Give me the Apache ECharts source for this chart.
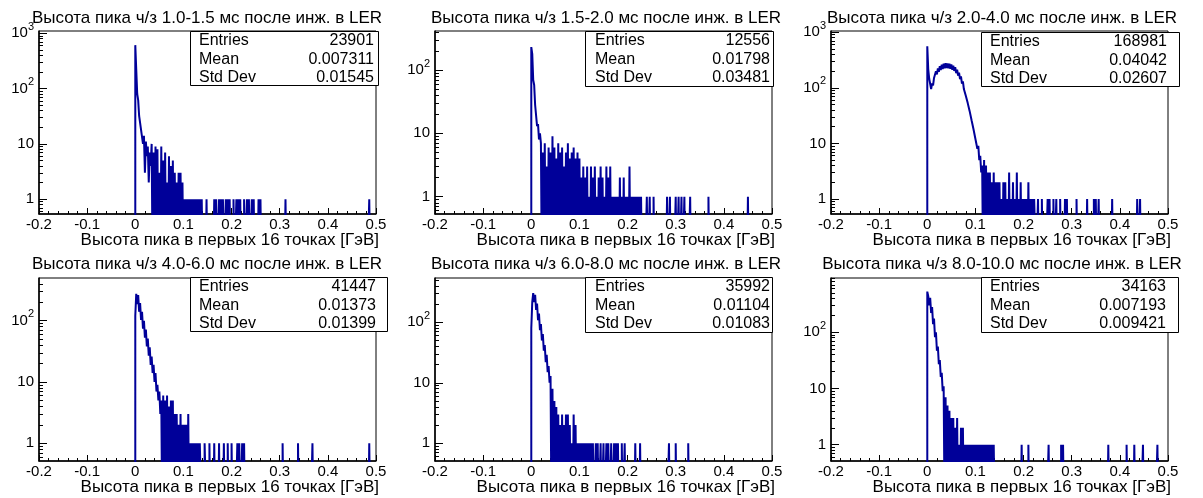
<!DOCTYPE html>
<html>
<head>
<meta charset="utf-8">
<script src="https://cdn.jsdelivr.net/npm/echarts@6/dist/echarts.min.js"></script>
<style>
  html, body { margin: 0; background: #fff; }
  #chart { width: 1203px; height: 498px; }
</style>
</head>
<body>
<div id="chart"></div>
<script>
// --- data ---
const timeRanges = ['1.0-1.5', '1.5-2.0', '2.0-4.0', '4.0-6.0', '6.0-8.0', '8.0-10.0'];
const xTitle = 'Высота пика в первых 16 точках [ГэВ]';

const statEntries = ['23901', '12556', '168981', '41447', '35992', '34163'];
const statMean = ['0.007311', '0.01798', '0.04042', '0.01373', '0.01104', '0.007193'];
const statStd = ['0.01545', '0.03481', '0.02607', '0.01399', '0.01083', '0.009421'];

// bin contents, bin width 0.002 starting at x = 0
const core1 = [610, 220, 80, 62, 32, 30, 18, 19, 10, 14, 3, 11, 6, 9, 2, 7, 4,
  10, 0, 7, 0, 9, 0, 8, 0, 3, 0, 9, 0, 5, 0, 7, 0, 2, 0, 6, 0,
  4, 0, 5, 0, 3, 0, 2, 0, 3, 0, 3, 0, 2, 0, 1, 0, 1, 0, 1, 0,
  1, 0, 1, 0, 1, 0, 1, 0, 1, 0, 1, 0, 1];
const core2 = [230, 180, 70, 58, 28, 27, 13, 14, 8, 10,
  7, 0, 5, 0, 7, 0, 3, 0, 6, 0, 5, 0, 9, 0, 6, 0, 4, 0, 7, 0,
  5, 0, 6, 0, 3, 0, 5, 0, 7, 0, 4, 0, 5, 0, 6, 0, 4, 0, 5, 0,
  4, 0, 2, 0, 3, 0, 2, 0, 3, 0, 1, 0, 3, 0, 2, 0, 3, 0, 1, 0,
  2, 0, 3, 0, 2, 0, 1, 0, 3, 0, 2, 0, 3, 0, 1, 0, 1, 0, 1, 0,
  1, 0, 2, 0, 1, 0, 2, 0, 1, 0, 1, 0, 3, 0, 1, 0, 1, 0, 1, 0,
  1, 0, 1, 0, 1];
const core3 = [560, 215, 145, 135, 95, 120, 110, 150, 140, 198,
  174, 223, 194, 244, 208, 260, 218, 270, 225, 276,
  227, 274, 224, 270, 220, 263, 211, 250, 201, 235,
  183, 212, 165, 188, 143, 160, 119, 131, 95, 102,
  72, 76, 53, 55, 38, 39, 26, 27, 18, 19,
  12, 12, 8, 9, 5, 6, 3, 4,
  0, 5, 0, 4, 0, 3, 0, 3, 0, 2, 0, 3, 0, 2, 0, 2, 0, 2, 0, 1,
  0, 2, 0, 2, 0, 1, 0, 3, 0, 1, 0, 2, 0, 1, 0, 3, 0, 1, 0, 2,
  0, 1, 0, 1, 0, 1, 0, 2, 0, 1, 0, 1, 0, 1];
const core4 = [120, 275, 187, 262, 140, 194, 103, 140, 74, 100,
  53, 72, 38, 51, 27, 37, 19, 26, 14, 19,
  10, 14, 7, 9, 5, 7, 3, 5,
  0, 6, 0, 5, 0, 6, 0, 4, 0, 5, 0, 5, 0, 3, 0, 3, 0, 2, 0, 3,
  0, 2, 0, 2, 0, 2, 0, 3, 0, 1, 0, 1, 0, 1, 0, 1, 0, 1, 0, 1];
const core5 = [80, 215, 305, 215, 285, 160, 205, 108, 140, 74,
  94, 50, 64, 34, 42, 22, 29, 15, 19, 10, 13,
  0, 8, 0, 5, 0, 4, 0, 3, 0, 2, 0, 3, 0, 2, 0, 3, 0, 3, 0, 2,
  0, 1, 0, 3, 0, 2, 0, 1, 0, 1, 0, 1, 0, 1, 0, 1, 0, 1, 0, 1,
  0, 1, 0, 1];
const core6 = [530, 440, 300, 410, 220, 280, 140, 175, 82, 100,
  47, 56, 27, 32, 16, 19, 9, 11,
  0, 7, 0, 5, 0, 4, 0, 3, 0, 3, 0, 2, 0, 3, 0, 1, 0, 2, 0, 2,
  0, 1, 0, 1, 0, 1, 0, 1, 0, 1, 0, 1, 0, 1, 0, 1, 0, 1, 0, 1,
  0, 1, 0, 1, 0, 1, 0, 1, 0, 1, 0, 1];

// isolated single entries further out (x of the bin)
const tail1 = [0.148, 0.164, 0.168, 0.17, 0.174, 0.178, 0.182, 0.184, 0.188, 0.192, 0.196,
  0.204, 0.21, 0.214, 0.218, 0.226, 0.232, 0.236, 0.242, 0.246, 0.256, 0.26, 0.312, 0.486];
const tail2 = [0.24, 0.246, 0.254, 0.282, 0.288, 0.3, 0.306, 0.312, 0.318, 0.33, 0.368, 0.45];
const tail3 = [0.224, 0.23, 0.238, 0.25, 0.254, 0.262, 0.268, 0.276, 0.286, 0.29, 0.31,
  0.332, 0.346, 0.35, 0.356, 0.384, 0.436, 0.442];
const tail4 = [0.136, 0.144, 0.146, 0.154, 0.164, 0.174, 0.184, 0.192, 0.2, 0.212, 0.216,
  0.222, 0.226, 0.306, 0.338, 0.368, 0.486];
const tail5 = [0.134, 0.138, 0.144, 0.15, 0.156, 0.16, 0.166, 0.172, 0.176, 0.18, 0.188,
  0.194, 0.216, 0.226, 0.286, 0.3, 0.326];
const tail6 = [0.196, 0.21, 0.252, 0.278, 0.282, 0.376, 0.414, 0.43, 0.448, 0.478];

// y range of each pad (log)
const yRanges = [[0.54, 1100], [0.533, 413], [0.537, 1050], [0.514, 498], [0.51, 540], [0.513, 925]];

const cores = [core1, core2, core3, core4, core5, core6];
const tails = [tail1, tail2, tail3, tail4, tail5, tail6];

// --- layout ---
const FONT = '"Liberation Sans", Arial, Helvetica, sans-serif';
const BLUE = '#000099';
const BIN = 0.002;
const NBINS = 250;
const EMPTY = 0.05; // below the axis, gets clipped
const padLeft = [39, 435, 831];
const padTop = [31, 278];
const PW = 337, PH = 183;
const titleX = [207, 606, 1002];
const titleY = [18.5, 264];
const xTitleY = [240, 487];
const statBoxes = [
  [190, 31, 188, 54], [585, 31, 188, 55], [981, 32, 198, 54],
  [190, 277, 197, 54], [585, 277, 187, 55], [981, 277, 197, 55]
];
const statLabelX = [199, 595, 990, 199, 595, 990];
const statValueX = [374, 770, 1167, 376, 770, 1166];

function histPoints(core, tail) {
  const counts = new Array(NBINS).fill(0);
  core.forEach((c, i) => { counts[i] = c; });
  tail.forEach(x => { counts[Math.round(x / BIN)] += 1; });
  const pts = [[-0.2, EMPTY], [0, EMPTY]];
  counts.forEach((c, i) => {
    const y = c > 0 ? c : EMPTY;
    pts.push([+(i * BIN).toFixed(4), y], [+((i + 1) * BIN).toFixed(4), y]);
  });
  return pts;
}

function inRange(vals, r) {
  return vals.filter(v => v >= r[0] && v <= r[1]);
}

const majorVals = [1, 10, 100, 1000];
const minorVals = [];
[0.1, 1, 10, 100].forEach(d => {
  for (let k = 2; k <= 9; k++) minorVals.push(+(k * d).toFixed(3));
});

function textEl(x, y, text, size, align) {
  return {
    type: 'text', x: x, y: y, z: 101,
    style: {
      text: text, font: size + 'px ' + FONT, fill: '#000',
      align: align, verticalAlign: 'middle', textAlign: align, textVerticalAlign: 'middle'
    }
  };
}

const grids = [], xAxes = [], yAxes = [], series = [], graphics = [];

for (let i = 0; i < 6; i++) {
  const col = i % 3, row = Math.floor(i / 3);
  const yr = yRanges[i];
  grids.push({
    left: padLeft[col], top: padTop[row], width: PW, height: PH,
    outerBoundsMode: 'none', containLabel: false,
    show: true, borderColor: '#000', borderWidth: 1
  });
  xAxes.push({
    gridIndex: i, type: 'value', min: -0.2, max: 0.5, interval: 0.1, position: 'bottom',
    axisLine: { show: true, onZero: false, lineStyle: { color: '#000', width: 1.5 } },
    axisTick: { inside: true, length: 6, lineStyle: { color: '#000' } },
    minorTick: { show: true, splitNumber: 5, length: 3, lineStyle: { color: '#000' } },
    splitLine: { show: false },
    axisLabel: {
      color: '#000', fontFamily: FONT, fontSize: 15, margin: 3,
      formatter: v => String(Math.round(v * 10) / 10)
    }
  });
  yAxes.push({
    gridIndex: i, type: 'log', logBase: 10, min: yr[0], max: yr[1], position: 'left',
    axisLine: { show: true, onZero: false, lineStyle: { color: '#000', width: 1.5 } },
    axisTick: { inside: true, length: 8, lineStyle: { color: '#000' }, customValues: inRange(majorVals, yr) },
    splitLine: { show: false },
    axisLabel: {
      customValues: inRange(majorVals, yr),
      color: '#000', fontFamily: FONT, fontSize: 15, margin: 5,
      formatter: v => {
        const e = Math.round(Math.log10(v));
        return e >= 2 ? '{b|10}{e|' + e + '}' : String(Math.pow(10, e));
      },
      rich: {
        b: { fontFamily: FONT, fontSize: 15, lineHeight: 24, color: '#000' },
        e: { fontFamily: FONT, fontSize: 11, lineHeight: 12, verticalAlign: 'top', color: '#000' }
      }
    }
  });
  yAxes.push({
    gridIndex: i, type: 'log', logBase: 10, min: yr[0], max: yr[1], position: 'left',
    axisLine: { show: false, onZero: false },
    axisTick: { inside: true, length: 4, lineStyle: { color: '#000' }, customValues: inRange(minorVals, yr) },
    axisLabel: { show: false },
    splitLine: { show: false }
  });
  series.push({
    type: 'line', xAxisIndex: i, yAxisIndex: 2 * i,
    data: histPoints(cores[i], tails[i]),
    showSymbol: false, symbol: 'none', clip: true, silent: true,
    lineStyle: { color: BLUE, width: 2 }
  });

  graphics.push(textEl(titleX[col], titleY[row],
    'Высота пика ч/з ' + timeRanges[i] + ' мс после инж. в LER', 17, 'center'));
  graphics.push(textEl(padLeft[col] + PW + 3, xTitleY[row], xTitle, 17, 'right'));

  const b = statBoxes[i];
  graphics.push({
    type: 'rect', z: 100,
    shape: { x: b[0] + 0.5, y: b[1] + 0.5, width: b[2], height: b[3] },
    style: { fill: '#fff', stroke: '#000', lineWidth: 1 }
  });
  const rowsY = [9.5, 28.5, 47];
  const labels = ['Entries', 'Mean', 'Std Dev'];
  const values = [statEntries[i], statMean[i], statStd[i]];
  labels.forEach((lab, k) => {
    graphics.push(textEl(statLabelX[i], b[1] + rowsY[k], lab, 16, 'left'));
    graphics.push(textEl(statValueX[i], b[1] + rowsY[k], values[k], 16, 'right'));
  });
}

const chart = echarts.init(document.getElementById('chart'));
chart.setOption({
  backgroundColor: '#fff',
  animation: false,
  grid: grids,
  xAxis: xAxes,
  yAxis: yAxes,
  series: series,
  graphic: { elements: graphics }
});
</script>
</body>
</html>
